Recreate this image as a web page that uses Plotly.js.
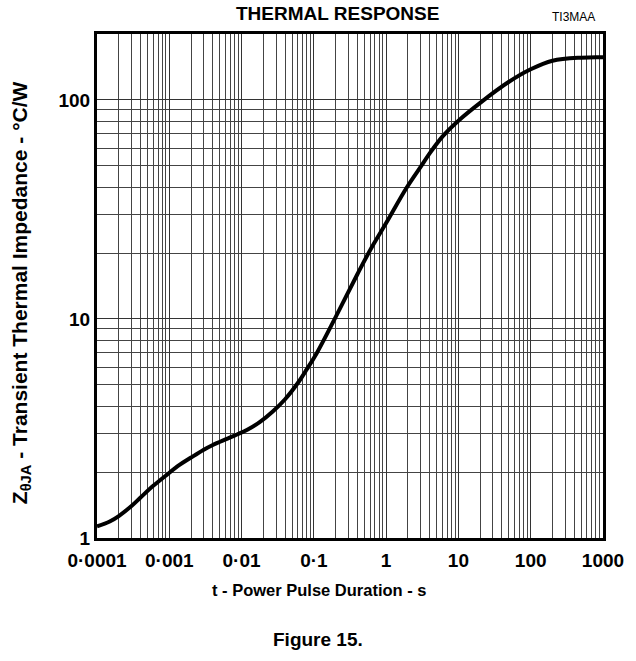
<!DOCTYPE html>
<html>
<head>
<meta charset="utf-8">
<script src="https://cdn.plot.ly/plotly-3.0.1.min.js"></script>
<style>html,body{margin:0;padding:0;background:#fff;}#chart{width:636px;height:661px;}</style>
</head>
<body>
<div id="chart"></div>
<script>
// Pulse duration (s)
const pulseDuration = [0.0001, 0.00015, 0.0002, 0.0003, 0.0004, 0.0006, 0.0009, 0.0014, 0.002, 0.003, 0.004, 0.006, 0.0085, 0.012, 0.018, 0.027, 0.04, 0.06, 0.08, 0.11, 0.2, 0.4, 0.6, 1.0, 1.9, 3.0, 4.0, 6.0, 10, 20, 50, 100, 200, 500, 1000];
// Transient thermal impedance (°C/W)
const impedance = [1.13, 1.19, 1.26, 1.40, 1.53, 1.73, 1.93, 2.16, 2.33, 2.53, 2.66, 2.82, 2.96, 3.12, 3.39, 3.78, 4.3, 5.1, 5.9, 7.0, 10.2, 16.0, 20.6, 27.4, 39.5, 49.5, 57, 68, 80.4, 97, 121, 138, 151, 156, 156.5];

const xTickVals = [0.0001, 0.001, 0.01, 0.1, 1, 10, 100, 1000];
const xTickText = ["0·0001", "0·001", "0·01", "0·1", "1", "10", "100", "1000"];
const yTickVals = [1, 10, 100];
const yTickText = ["1", "10", "100"];

const FONT = "Liberation Sans, Arial, sans-serif";

const trace = {
  x: pulseDuration,
  y: impedance,
  type: "scatter",
  mode: "lines",
  line: {color: "#000", width: 4, shape: "spline", smoothing: 1},
  hoverinfo: "skip"
};

const axisCommon = {
  type: "log",
  showline: true,
  linecolor: "#000",
  linewidth: 3,
  mirror: true,
  showgrid: true,
  gridcolor: "#333",
  gridwidth: 1,
  zeroline: false,
  ticks: "",
  tickmode: "array",
  tickfont: {family: FONT, size: 19, color: "#000", weight: "bold"},
  minor: {dtick: "D1", showgrid: true, gridcolor: "#444", gridwidth: 1, ticks: ""}
};

const layout = {
  width: 636,
  height: 661,
  margin: {l: 97, r: 33, t: 34, b: 123},
  paper_bgcolor: "#fff",
  plot_bgcolor: "#fff",
  showlegend: false,
  xaxis: Object.assign({}, axisCommon, {
    range: [-4, 3],
    tickvals: xTickVals,
    ticktext: xTickText,
    ticklabelstandoff: 3
  }),
  yaxis: Object.assign({}, axisCommon, {
    range: [0, Math.log10(200)],
    tickvals: yTickVals,
    ticktext: yTickText
  }),
  annotations: [
    {text: "<b>THERMAL RESPONSE</b>", xref: "paper", yref: "paper", x: 0.476, y: 1.040, showarrow: false,
     xanchor: "center", yanchor: "middle", font: {family: FONT, size: 19, color: "#000"}},
    {text: "TI3MAA", xref: "paper", yref: "paper", x: 0.941, y: 1.034, showarrow: false,
     xanchor: "center", yanchor: "middle", font: {family: FONT, size: 12, color: "#000"}},
    {text: "<b>t - Power Pulse Duration - s</b>", xref: "paper", yref: "paper", x: 0.439, y: -0.103, showarrow: false,
     xanchor: "center", yanchor: "middle", font: {family: FONT, size: 16.5, color: "#000"}},
    {text: "<b>Figure 15.</b>", xref: "paper", yref: "paper", x: 0.437, y: -0.202, showarrow: false,
     xanchor: "center", yanchor: "middle", font: {family: FONT, size: 19, color: "#000"}},
    {text: "<b>Z<sub>θJA</sub> - Transient Thermal Impedance - °C/W</b>", xref: "paper", yref: "paper", x: -0.150, y: 0.486, showarrow: false,
     textangle: -90, xanchor: "center", yanchor: "middle", font: {family: FONT, size: 21, color: "#000"}}
  ]
};

Plotly.newPlot("chart", [trace], layout, {staticPlot: true, displayModeBar: false});
</script>
</body>
</html>
